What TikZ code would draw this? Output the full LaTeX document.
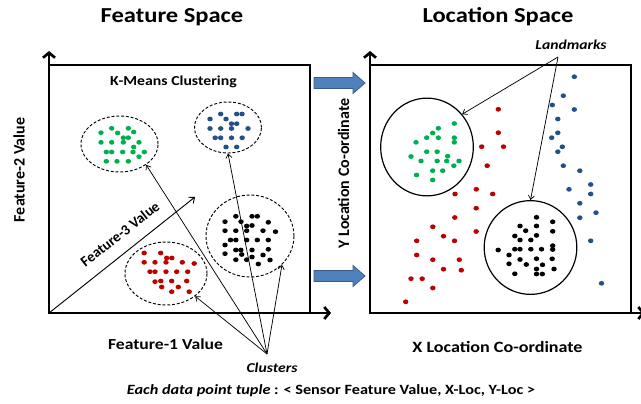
\documentclass[tikz,border=0pt]{standalone}
\usepackage{fontspec}
\setmainfont[FakeStretch=1.15]{Carlito}
\newfontfamily\uprightfont{Carlito}
\usetikzlibrary{arrows.meta,shapes.geometric}

\definecolor{dotgreen}{HTML}{00B050}
\definecolor{dotblue}{HTML}{24508A}
\definecolor{dotred}{HTML}{C00000}
\definecolor{flowfill}{HTML}{4F81BD}
\definecolor{flowedge}{HTML}{385D8A}

\tikzset{
  axisline/.style={line width=2pt, line join=miter,
    {Straight Barb[length=3.75pt,width=9pt]}-{Straight Barb[length=3.75pt,width=9pt]}},
  frameline/.style={line width=1.5pt},
  depthaxis/.style={line width=0.7pt, -{Straight Barb[length=3.5pt,width=6pt]}},
  pointer/.style={line width=0.55pt, -{Straight Barb[length=3pt,width=4.5pt]}},
  clusterring/.style={ellipse, draw, dash pattern=on 2.2pt off 1.4pt, line width=0.7pt, inner sep=0pt},
  landmarkring/.style={ellipse, draw, line width=0.9pt, inner sep=0pt},
  flowarrow/.style={fill=flowfill, draw=flowedge, line width=0.6pt},
  title/.style={font=\fontsize{16}{19}\selectfont\bfseries},
  axislabel/.style={font=\fontsize{11.5}{14}\selectfont\bfseries},
  vlabel/.style={font=\uprightfont\fontsize{12}{14}\selectfont\bfseries, rotate=90},
  callout/.style={font=\fontsize{10.2}{12}\selectfont\bfseries\itshape},
}

\begin{document}
\begin{tikzpicture}[x=0.75pt, y=-0.75pt]
  \useasboundingbox[fill=white] (0,0) rectangle (641,403);

  % ---------- titles ----------
  \node[title] (tfeat) at (172,17) {Feature Space};
  \node[title] (tloc)  at (498,17) {Location Space};

  % ---------- feature space frame and axes ----------
  \draw[frameline] (49,65) -- (310,65) -- (310,313);
  \draw[axisline] (49,51) -- (49,313) -- (331,313);
  \coordinate (forigin) at (49,313);
  \coordinate (f3tip) at (195,197);
  \draw[depthaxis] (forigin) -- (f3tip);

  \node[font=\fontsize{10.3}{12}\selectfont\bfseries] (kmeans) at (173.5,82) {K-Means Clustering};
  \node[axislabel] (f1) at (165.5,344) {Feature-1 Value};
  \node[vlabel] (f2) at (19,170) {Feature-2 Value};
  \node[font=\uprightfont\fontsize{11}{13}\selectfont\bfseries, rotate=38] (f3) at (120,234) {Feature-3 Value};

  % ---------- clusters in feature space ----------
  \node[clusterring, minimum width=57.75pt, minimum height=42pt] (gcl) at (119.5,144) {};
  \node[clusterring, minimum width=50.25pt, minimum height=38.25pt] (bcl) at (228,127.5) {};
  \node[clusterring, minimum width=66pt, minimum height=61.5pt] (kcl) at (250,236) {};
  \node[clusterring, minimum width=61.5pt, minimum height=47.25pt] (rcl) at (166,273.5) {};

  \foreach \x/\y in {101/132.7, 111.7/128.3, 128.3/128.3, 117.7/133, 133.7/132, 123.3/137.7,
      128.3/137.7, 101/142.3, 111.7/142.3, 123.3/142.3, 139/142.3, 133.7/147, 106.3/152,
      111.7/152, 122.7/152, 133/152, 144.3/152, 139/156.7, 106.3/161.3, 117/161.3, 128.3/161.3}
    \fill[dotgreen] (\x,\y) ellipse[x radius=2.05pt, y radius=1.8pt];

  \foreach \x/\y in {210/119, 220.7/114, 236.7/114, 242/114, 226/119, 231.5/123.7, 236.7/123.7,
      210/128.5, 220.7/128.5, 231.5/128.5, 248/128.5, 215.2/137.8, 220.7/137.8, 231.5/137.8,
      242.2/137.8, 226/147, 236.7/147}
    \fill[dotblue] (\x,\y) ellipse[x radius=2.05pt, y radius=1.8pt];

  \foreach \x/\y in {225/221.7, 235.8/216.3, 241/221.7, 252/216.3, 257.3/216.3, 246.7/226,
      252/225.5, 268.3/222.3, 225/230.7, 235.8/230.7, 246.7/230.7, 263/230.7, 275.5/231.7,
      230.5/240, 235.8/240, 246.7/240, 257.3/240, 268.3/240, 225/245, 235.8/250, 240.8/250,
      252/250, 268.3/249.3, 225/253.7, 241.7/254.5, 252/257, 263/255, 235.8/259.7, 246.7/259.7,
      258.3/264, 270/260}
    \fill[black] (\x,\y) ellipse[x radius=2.05pt, y radius=1.8pt];

  \foreach \x/\y in {144.2/253, 160.7/253, 166.7/258, 171.8/258, 144.2/262.3, 155/262.3,
      166/262.3, 182.3/262.3, 194.2/263.5, 150/271.7, 155/271.7, 166/271.7, 176.7/271.7,
      187.7/271.7, 155/281.7, 160.8/281, 171.7/281, 186.7/281, 161.7/287, 178.3/287,
      171.7/291.7, 189.2/291.7}
    \fill[dotred] (\x,\y) ellipse[x radius=2.05pt, y radius=1.8pt];

  % ---------- cluster callout ----------
  \node[callout] (clusters) at (272,368) {Clusters};
  \coordinate (clusrc) at (267,354);
  \draw[pointer] (clusrc) -- (gcl.-38);
  \draw[pointer] (clusrc) -- (bcl.-90);
  \draw[pointer] (clusrc) -- (kcl.-42);
  \draw[pointer] (clusrc) -- (rcl.-38);

  % ---------- block arrows between the spaces ----------
  \draw[flowarrow] (314,77.5) -- (353,77.5) -- (353,72.5) -- (365,83)
    -- (353,93.5) -- (353,88.5) -- (314,88.5) -- cycle;
  \draw[flowarrow] (314,270.5) -- (353,270.5) -- (353,265.5) -- (365,276)
    -- (353,286.5) -- (353,281.5) -- (314,281.5) -- cycle;

  % ---------- location space frame and axes ----------
  \draw[frameline] (370,65) -- (631,65) -- (631,313);
  \draw[axisline] (370,51) -- (370,313) -- (645,313);

  \node[axislabel, font=\fontsize{11.8}{14}\selectfont\bfseries] (xloc) at (497.5,347) {X Location Co-ordinate};
  \node[vlabel] (yloc) at (343.5,173.5) {Y Location Co-ordinate};

  % ---------- landmarks ----------
  \node[landmarkring, minimum width=69.5pt, minimum height=73.3pt] (lgr) at (427,147) {};
  \node[landmarkring, minimum width=69.5pt, minimum height=70.3pt] (lbk) at (530.5,247.5) {};

  \foreach \x/\y in {454.3/123.5, 438.3/128.3, 432.7/133, 426.7/137.7, 438.3/137.7, 454.3/137.7,
      454.3/142.3, 416/142.3, 426.7/151.7, 437.2/151.7, 411/156.5, 421/161, 437.2/161,
      447.7/156.2, 446.7/161, 459/161, 453.8/165.7, 432.7/170.7, 442.7/170.7, 416.5/175,
      432.7/180}
    \fill[dotgreen] (\x,\y) ellipse[x radius=2.05pt, y radius=1.8pt];

  \foreach \x/\y in {498.3/109.3, 498.3/132.7, 481.7/146.7, 503.5/146.7, 487.2/165.7, 455/194,
      476.3/189.3, 492.7/194, 476.2/208.2, 454.8/217.5, 432.8/226.8, 443.5/236.2, 476.2/231.5,
      454.5/240.8, 416.7/240.8, 416.7/255, 432.8/259.7, 459.3/259.7, 443.5/269.2, 461.3/270.2,
      411/278.7, 422.2/278.7, 432.8/288, 405.7/301.8}
    \fill[dotred] (\x,\y) ellipse[x radius=2.05pt, y radius=1.8pt];

  \foreach \x/\y in {574.3/76.7, 563.3/95.7, 552.3/105, 574.3/109.5, 557.8/119, 557.8/132.8,
      551.7/137.7, 562.3/146.8, 557.8/151.7, 563.3/165.7, 579.8/170.7, 590.7/184.5, 569/189.3,
      590.7/194, 579.8/203.3, 596/212.7, 579.8/217.7, 590.7/240.8, 601.5/283.3}
    \fill[dotblue] (\x,\y) ellipse[x radius=2.05pt, y radius=1.8pt];

  \foreach \x/\y in {536.5/217.3, 552.7/221.8, 520/226, 536.5/226, 525.7/230.7, 552.7/231.3,
      514.8/236, 536.5/235.4, 520/240, 530.8/240, 552.7/245.7, 552.7/249.5, 514.8/249.2,
      520/249.2, 530.8/249.2, 541.5/249.2, 498.2/250, 509/255, 520/259.5, 536.5/258.7,
      552.2/258.8, 509/263.8, 526.3/264.5, 542.5/264.8, 536.5/269, 554/269, 514.8/273.8,
      536.5/274, 542.3/274}
    \fill[black] (\x,\y) ellipse[x radius=2.05pt, y radius=1.8pt];

  \node[callout] (landmarks) at (571,45) {Landmarks};
  \coordinate (lmsrc) at (558,57);
  \draw[pointer] (lmsrc) -- (lgr.43);
  \draw[pointer] (lmsrc) -- (lbk.90);

  % ---------- footnote ----------
  \node[font=\fontsize{10.6}{12}\selectfont\bfseries] (tuple) at (331,391)
    {\textit{Each data point tuple} : {<} Sensor Feature Value, X-Loc, Y-Loc {>}};
\end{tikzpicture}
\end{document}
